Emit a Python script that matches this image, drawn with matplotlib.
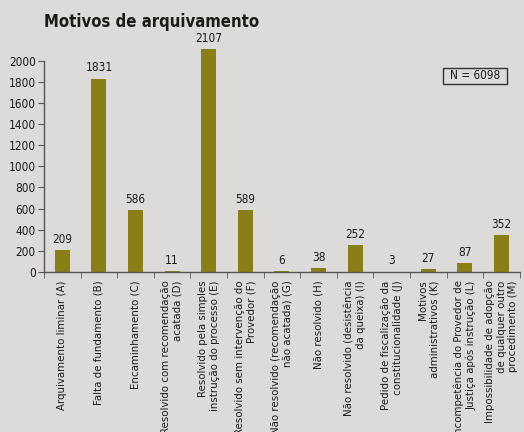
import matplotlib
matplotlib.use("Agg")
import matplotlib.pyplot as plt
from matplotlib import font_manager
from matplotlib.patches import Rectangle
import numpy as np

categories = [
    "Arquivamento liminar (A)",
    "Falta de fundamento (B)",
    "Encaminhamento (C)",
    "Resolvido com recomendação\nacatada (D)",
    "Resolvido pela simples\ninstrução do processo (E)",
    "Resolvido sem intervenção do\nProvedor (F)",
    "Não resolvido (recomendação\nnão acatada) (G)",
    "Não resolvido (H)",
    "Não resolvido (desistência\nda queixa) (I)",
    "Pedido de fiscalização da\nconstitucionalidade (J)",
    "Motivos\nadministrativos (K)",
    "Incompetência do Provedor de\nJustiça após instrução (L)",
    "Impossibilidade de adopção\nde qualquer outro\nprocedimento (M)",
]
values = [209, 1831, 586, 11, 2107, 589, 6, 38, 252, 3, 27, 87, 352]
yticks = list(range(0, 2001, 200))

names = {f.name for f in font_manager.fontManager.ttflist}
fam = "DejaVu Sans"
stretch = "normal"
if "DejaVu Sans Condensed" in names:
    fam = "DejaVu Sans Condensed"
else:
    for f in font_manager.fontManager.ttflist:
        if f.name == "DejaVu Sans" and f.stretch in ("condensed", 87.5, 75, "semi-condensed"):
            stretch = "condensed"
            break
plt.rcParams["font.family"] = [fam]
plt.rcParams["font.stretch"] = stretch

bg = "#dcdbd9"
bar_color = "#8a7e16"
txt = "#1e1a16"

fig = plt.figure(figsize=(5.24, 4.32), dpi=100, facecolor=bg)
ax = fig.add_axes([0.084, 0.3704, 0.908, 0.489])
ax.set_facecolor(bg)

x = np.arange(len(values))
ax.bar(x, values, width=0.41, color=bar_color, clip_on=False, zorder=2)
for xi, v in zip(x, values):
    ax.text(xi, v + 40, str(v), ha="center", va="bottom", fontsize=8.5, color=txt)

ax.set_xlim(-0.5, len(values) - 0.5)
ax.set_ylim(0, 2000)
ax.set_yticks(yticks)
ax.set_yticklabels([str(t) for t in yticks], fontsize=8.5, color=txt)
ax.set_xticks(x)
ax.set_xticklabels(categories, rotation=90, fontsize=8.2, color=txt,
                   ha="center", va="top", multialignment="right")
ax.tick_params(axis="x", length=0, pad=6)
ax.set_xticks(np.arange(-0.5, len(values), 1), minor=True)
ax.tick_params(axis="x", which="minor", length=4, color="#555555", direction="out")
ax.tick_params(axis="y", length=4, color="#555555", direction="out", pad=2)

for s in ["top", "right"]:
    ax.spines[s].set_visible(False)
for s in ["left", "bottom"]:
    ax.spines[s].set_color("#555555")
    ax.spines[s].set_linewidth(1.0)

ax.add_patch(Rectangle((0.838, 0.891), 0.135, 0.076, transform=ax.transAxes,
                       facecolor=bg, edgecolor="#333333", linewidth=1, zorder=3))
ax.text(0.9055, 0.929, "N = 6098", transform=ax.transAxes, ha="center", va="center",
        fontsize=8.5, color=txt, zorder=4)

fig.text(0.084, 0.948, "Motivos de arquivamento", fontsize=12, fontweight="bold",
         color=txt, ha="left", va="center")

fig.savefig("out.png", dpi=100, facecolor=bg)
